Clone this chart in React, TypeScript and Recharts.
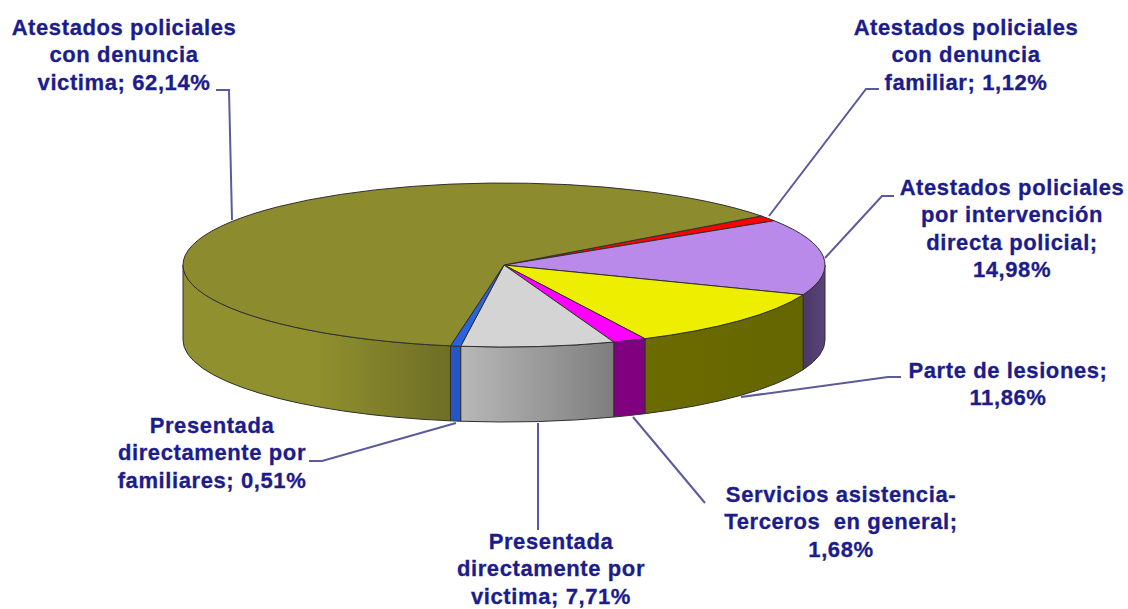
import { PieChart, Pie } from "recharts";

const categories = [
  "Atestados policiales con denuncia familiar",
  "Atestados policiales por intervención directa policial",
  "Parte de lesiones",
  "Servicios asistencia-Terceros en general",
  "Presentada directamente por victima",
  "Presentada directamente por familiares",
  "Atestados policiales con denuncia victima",
];
const values = [1.12, 14.98, 11.86, 1.68, 7.71, 0.51, 62.14];
const labelLines = [
  ["Atestados policiales", "con denuncia", "familiar; 1,12%"],
  ["Atestados policiales", "por intervención", "directa policial;", "14,98%"],
  ["Parte de lesiones;", "11,86%"],
  ["Servicios asistencia-", "Terceros\u00a0 en general;", "1,68%"],
  ["Presentada", "directamente por", "victima; 7,71%"],
  ["Presentada", "directamente por", "familiares; 0,51%"],
  ["Atestados policiales", "con denuncia", "victima; 62,14%"],
];
const topColors = ["#ff0000", "#b98aea", "#eeee00", "#ff00ff", "#d4d4d4", "#2b62e0", "#8c8c2e"];
// side wall gradient, left to right
const sideFrom = ["#aa0000", "#4a3868", "#6b6b00", "#800080", "#b8b8b8", "#2456c8", "#90902e"];
const sideTo = ["#aa0000", "#5a4478", "#666600", "#800080", "#7e7e7e", "#2456c8", "#6e6e26"];

// where each label and its leader go on the page
const labelCenters = [
  [966, 35],
  [1012, 195],
  [1008, 378],
  [841, 502],
  [551, 549],
  [212, 433],
  [124, 35],
];
const leaders = [
  "769,216 866,89 879,89",
  "825,258 882,196 894,196",
  "741,397 888,377 901,377",
  "633,417 705,503",
  "538,423 538,530",
  "456,423 322,461 309,461",
  "232,220 229,90 216,90",
];

const CX = 504;
const CY = 265;
const RADIUS = 321;
const SQUASH = 82 / 321;
const DEPTH = 75;
const TEXT = "#1c1c8a";
const LEADER = "#5a5a9c";
const EDGE = "#303030";

const data = categories.map((name, i) => ({ name, value: values[i] }));

const pt = (cx: number, cy: number, r: number, deg: number) => {
  const a = (deg * Math.PI) / 180;
  return [cx + r * Math.cos(a), cy - r * Math.sin(a) * SQUASH];
};

function Slice3D(props: any) {
  const { cx, cy, outerRadius: r, startAngle, endAngle, index, fill } = props;
  const ry = r * SQUASH;
  const [x0, y0] = pt(cx, cy, r, startAngle);
  const [x1, y1] = pt(cx, cy, r, endAngle);
  const large = startAngle - endAngle > 180 ? 1 : 0;
  const top = `M${cx},${cy} L${x0},${y0} A${r},${ry} 0 ${large} 1 ${x1},${y1} Z`;

  // the wall only shows on the front half of the disc
  const s = Math.min(startAngle, 0);
  const e = Math.max(endAngle, -180);
  let wall = null;
  if (s > e) {
    const [wx0, wy0] = pt(cx, cy, r, s);
    const [wx1, wy1] = pt(cx, cy, r, e);
    const d = `M${wx0},${wy0} A${r},${ry} 0 0 1 ${wx1},${wy1} L${wx1},${wy1 + DEPTH} A${r},${ry} 0 0 0 ${wx0},${wy0 + DEPTH} Z`;
    const id = `wall-${index}`;
    wall = (
      <>
        <defs>
          <linearGradient id={id} gradientUnits="userSpaceOnUse" x1={Math.min(wx0, wx1)} x2={Math.max(wx0, wx1)} y1={0} y2={0}>
            <stop offset="0" stopColor={sideFrom[index]} />
            <stop offset={index === 6 ? "0.5" : "0"} stopColor={sideFrom[index]} />
            <stop offset="1" stopColor={sideTo[index]} />
          </linearGradient>
        </defs>
        <path d={d} fill={`url(#${id})`} stroke={EDGE} strokeWidth={1} />
      </>
    );
  }
  return (
    <g>
      {wall}
      <path d={top} fill={fill} stroke={EDGE} strokeWidth={1} strokeLinejoin="round" />
    </g>
  );
}

function SliceLabel(props: any) {
  const i = props.index;
  const [x, y] = labelCenters[i];
  return (
    <g>
      <polyline points={leaders[i]} fill="none" stroke={LEADER} strokeWidth={2} />
      <text
        x={x}
        y={y}
        textAnchor="middle"
        fill={TEXT}
        stroke={TEXT}
        strokeWidth={0.3}
        fontFamily="'Liberation Sans', Arial, sans-serif"
        fontWeight="bold"
        fontSize={22}
        letterSpacing={0.6}
        style={{ whiteSpace: "pre" }}
      >
        {labelLines[i].map((line, k) => (
          <tspan key={k} x={x} y={y + k * 27.4}>
            {line}
          </tspan>
        ))}
      </text>
    </g>
  );
}

export default function App() {
  return (
    <div style={{ position: "absolute", left: 0, top: 0, width: 1128, height: 609, background: "#fff" }}>
      <PieChart width={1128} height={609} margin={{ top: 0, right: 0, bottom: 0, left: 0 }}>
        <Pie
          data={data}
          dataKey="value"
          nameKey="name"
          cx={CX}
          cy={CY}
          innerRadius={0}
          outerRadius={RADIUS}
          startAngle={36.7}
          endAngle={-323.3}
          isAnimationActive={false}
          shape={(props: any) => <Slice3D {...props} fill={topColors[props.index]} />}
          label={(props: any) => <SliceLabel {...props} />}
          labelLine={false}
          rootTabIndex={-1}
        />
      </PieChart>
    </div>
  );
}
